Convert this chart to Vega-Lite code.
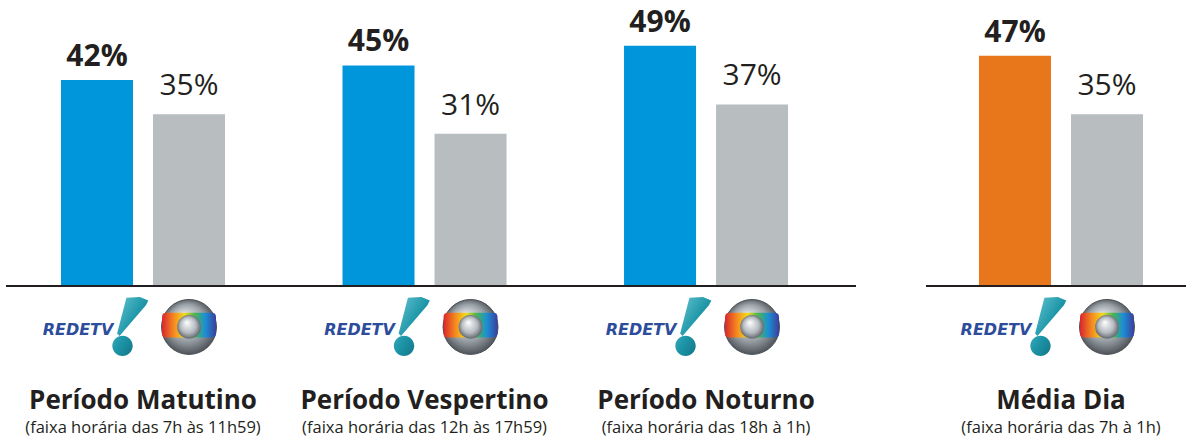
{
  "$schema": "https://vega.github.io/schema/vega-lite/v6.json",
  "padding": {"left": 5, "top": 0, "right": 0, "bottom": 0},
  "spacing": 70,
  "bounds": "flush",
  "background": "white",
  "resolve": {"scale": {"xOffset": "independent", "color": "independent"}},
  "config": {"view": {"stroke": null}, "font": "Open Sans"},
  "datasets": {
    "left": [
      {"group": "Período Matutino", "subtitle": "(faixa horária das 7h às 11h59)", "network": "RedeTV", "value": 0.42},
      {"group": "Período Matutino", "subtitle": "(faixa horária das 7h às 11h59)", "network": "Globo", "value": 0.35},
      {"group": "Período Vespertino", "subtitle": "(faixa horária das 12h às 17h59)", "network": "RedeTV", "value": 0.45},
      {"group": "Período Vespertino", "subtitle": "(faixa horária das 12h às 17h59)", "network": "Globo", "value": 0.31},
      {"group": "Período Noturno", "subtitle": "(faixa horária das 18h à 1h)", "network": "RedeTV", "value": 0.49},
      {"group": "Período Noturno", "subtitle": "(faixa horária das 18h à 1h)", "network": "Globo", "value": 0.37}
    ],
    "right": [
      {"group": "Média Dia", "subtitle": "(faixa horária das 7h à 1h)", "network": "RedeTV", "value": 0.47},
      {"group": "Média Dia", "subtitle": "(faixa horária das 7h à 1h)", "network": "Globo", "value": 0.35}
    ]
  },
  "hconcat": [
    {
      "width": 850,
      "height": 439,
      "data": {"name": "left"},
      "layer": [
        {
          "mark": {"type": "bar"},
          "encoding": {
            "x": {"field": "group", "type": "nominal", "sort": ["Período Matutino", "Período Vespertino", "Período Noturno"], "axis": null,
                  "scale": {"paddingInner": 0.0266, "paddingOuter": 0.023, "align": 0}},
            "xOffset": {"field": "network", "type": "nominal", "sort": ["RedeTV", "Globo"], "scale": {"paddingInner": 0.2174, "paddingOuter": 0.5978}},
            "y": {"field": "value", "type": "quantitative", "axis": null, "scale": {"domain": [-0.3156, 0.584], "nice": false, "zero": false}},
            "y2": {"datum": 0},
            "color": {"condition": {"test": "datum.network === 'Globo'", "value": "#b8bdc0"}, "value": "#0096dc"}
          }
        },
        {
          "mark": {"type": "rule", "color": "#231f20", "strokeWidth": 2},
          "encoding": {"y": {"datum": -0.002}}
        },
        {
          "transform": [{"filter": "datum.network === 'RedeTV'"}],
          "mark": {"type": "text", "dy": -14, "fontSize": 30, "fontWeight": "bold", "color": "#231f20", "baseline": "alphabetic"},
          "encoding": {
            "x": {"field": "group", "type": "nominal", "sort": ["Período Matutino", "Período Vespertino", "Período Noturno"]},
            "xOffset": {"field": "network", "type": "nominal", "sort": ["RedeTV", "Globo"]},
            "y": {"field": "value", "type": "quantitative"},
            "text": {"field": "value", "type": "quantitative", "format": ".0%"}
          }
        },
        {
          "transform": [{"filter": "datum.network === 'Globo'"}],
          "mark": {"type": "text", "dy": -19, "fontSize": 30, "fontWeight": "normal", "color": "#231f20", "baseline": "alphabetic"},
          "encoding": {
            "x": {"field": "group", "type": "nominal", "sort": ["Período Matutino", "Período Vespertino", "Período Noturno"]},
            "xOffset": {"field": "network", "type": "nominal", "sort": ["RedeTV", "Globo"]},
            "y": {"field": "value", "type": "quantitative"},
            "text": {"field": "value", "type": "quantitative", "format": ".0%"}
          }
        },
        {
          "transform": [{"filter": "datum.network === 'RedeTV'"}],
          "mark": {"type": "text", "text": "REDETV", "font": "DejaVu Sans", "fontStyle": "italic", "fontWeight": "bold", "fontSize": 16, "dx": -19, "dy": 8, "baseline": "alphabetic", "color": "#2d4d9c"},
          "encoding": {
            "x": {"field": "group", "type": "nominal", "sort": ["Período Matutino", "Período Vespertino", "Período Noturno"]},
            "xOffset": {"field": "network", "type": "nominal", "sort": ["RedeTV", "Globo"]},
            "y": {"datum": -0.086}
          }
        },
        {
          "transform": [{"filter": "datum.network === 'RedeTV'"}],
          "mark": {"type": "point", "filled": true, "opacity": 1, "size": 3600,
                   "shape": "M 0.98 -0.97 L 1.43 -1 L 1.71 -0.88 L 1.63 -0.72 L 0.75 0.3 L 0.67 0.22 Z M 0.51 0.63 A 0.34 0.34 0 1 0 1.19 0.63 A 0.34 0.34 0 1 0 0.51 0.63 Z",
                   "fill": {"gradient": "linear", "x1": 0, "y1": 0, "x2": 1, "y2": 1, "stops": [{"offset": 0, "color": "#6fcad6"}, {"offset": 0.5, "color": "#1d96a8"}, {"offset": 1, "color": "#0b5d70"}]},
                   "strokeWidth": 0},
          "encoding": {
            "x": {"field": "group", "type": "nominal", "sort": ["Período Matutino", "Período Vespertino", "Período Noturno"]},
            "xOffset": {"field": "network", "type": "nominal", "sort": ["RedeTV", "Globo"]},
            "y": {"datum": -0.086}
          }
        },
        {
          "transform": [{"filter": "datum.network === 'Globo'"}],
          "mark": {"type": "point", "shape": "circle", "filled": true, "opacity": 1, "size": 3019,
                   "fill": {"gradient": "radial", "x1": 0.4, "y1": 0.3, "r1": 0, "x2": 0.5, "y2": 0.5, "r2": 0.55, "stops": [{"offset": 0, "color": "#f2f4f5"}, {"offset": 0.6, "color": "#9aa1a7"}, {"offset": 1, "color": "#3e444a"}]},
                   "stroke": "#4a5056", "strokeWidth": 1},
          "encoding": {
            "x": {"field": "group", "type": "nominal", "sort": ["Período Matutino", "Período Vespertino", "Período Noturno"]},
            "xOffset": {"field": "network", "type": "nominal", "sort": ["RedeTV", "Globo"]},
            "y": {"datum": -0.086}
          }
        },
        {
          "transform": [{"filter": "datum.network === 'Globo'"}],
          "mark": {"type": "point", "filled": true, "opacity": 1, "size": 2916,
                   "shape": "M -1 -0.37 Q -1 -0.53 -0.84 -0.53 L 0.84 -0.53 Q 1 -0.53 1 -0.37 L 1 0.23 Q 1 0.39 0.84 0.39 L -0.84 0.39 Q -1 0.39 -1 0.23 Z",
                   "fill": {"gradient": "linear", "x1": 0, "y1": 0, "x2": 1, "y2": 0, "stops": [{"offset": 0, "color": "#d9262e"}, {"offset": 0.22, "color": "#f58a1f"}, {"offset": 0.42, "color": "#f2dc1e"}, {"offset": 0.6, "color": "#4cb848"}, {"offset": 0.8, "color": "#1b8fd6"}, {"offset": 1, "color": "#3b3f9c"}]},
                   "strokeWidth": 0},
          "encoding": {
            "x": {"field": "group", "type": "nominal", "sort": ["Período Matutino", "Período Vespertino", "Período Noturno"]},
            "xOffset": {"field": "network", "type": "nominal", "sort": ["RedeTV", "Globo"]},
            "y": {"datum": -0.086}
          }
        },
        {
          "transform": [{"filter": "datum.network === 'Globo'"}],
          "mark": {"type": "point", "shape": "circle", "filled": true, "opacity": 1, "size": 560,
                   "fill": {"gradient": "radial", "x1": 0.4, "y1": 0.3, "r1": 0, "x2": 0.5, "y2": 0.5, "r2": 0.55, "stops": [{"offset": 0, "color": "#ffffff"}, {"offset": 0.6, "color": "#b5bbc0"}, {"offset": 1, "color": "#50565c"}]},
                   "strokeWidth": 0},
          "encoding": {
            "x": {"field": "group", "type": "nominal", "sort": ["Período Matutino", "Período Vespertino", "Período Noturno"]},
            "xOffset": {"field": "network", "type": "nominal", "sort": ["RedeTV", "Globo"]},
            "y": {"datum": -0.086}
          }
        },
        {
          "transform": [{"filter": "datum.network === 'RedeTV'"}],
          "mark": {"type": "text", "fontSize": 26, "fontWeight": "bold", "color": "#231f20", "baseline": "alphabetic"},
          "encoding": {
            "x": {"field": "group", "type": "nominal", "sort": ["Período Matutino", "Período Vespertino", "Período Noturno"]},
            "y": {"datum": -0.2531},
            "text": {"field": "group", "type": "nominal"}
          }
        },
        {
          "transform": [{"filter": "datum.network === 'RedeTV'"}],
          "mark": {"type": "text", "fontSize": 16.5, "fontWeight": "normal", "color": "#231f20", "baseline": "alphabetic"},
          "encoding": {
            "x": {"field": "group", "type": "nominal", "sort": ["Período Matutino", "Período Vespertino", "Período Noturno"]},
            "y": {"datum": -0.3043},
            "text": {"field": "subtitle", "type": "nominal"}
          }
        }
      ]
    },
    {
      "width": 261,
      "height": 439,
      "data": {"name": "right"},
      "layer": [
        {
          "mark": {"type": "bar"},
          "encoding": {
            "x": {"field": "group", "type": "nominal", "axis": null,
                  "scale": {"paddingInner": 0, "paddingOuter": 0.04375, "align": 0.714}},
            "xOffset": {"field": "network", "type": "nominal", "sort": ["RedeTV", "Globo"], "scale": {"paddingInner": 0.2174, "paddingOuter": 0.413}},
            "y": {"field": "value", "type": "quantitative", "axis": null, "scale": {"domain": [-0.3156, 0.584], "nice": false, "zero": false}},
            "y2": {"datum": 0},
            "color": {"condition": {"test": "datum.network === 'Globo'", "value": "#b8bdc0"}, "value": "#e8761b"}
          }
        },
        {
          "mark": {"type": "rule", "color": "#231f20", "strokeWidth": 2},
          "encoding": {"y": {"datum": -0.002}}
        },
        {
          "transform": [{"filter": "datum.network === 'RedeTV'"}],
          "mark": {"type": "text", "dy": -14, "fontSize": 30, "fontWeight": "bold", "color": "#231f20", "baseline": "alphabetic"},
          "encoding": {
            "x": {"field": "group", "type": "nominal"},
            "xOffset": {"field": "network", "type": "nominal", "sort": ["RedeTV", "Globo"]},
            "y": {"field": "value", "type": "quantitative"},
            "text": {"field": "value", "type": "quantitative", "format": ".0%"}
          }
        },
        {
          "transform": [{"filter": "datum.network === 'Globo'"}],
          "mark": {"type": "text", "dy": -19, "fontSize": 30, "fontWeight": "normal", "color": "#231f20", "baseline": "alphabetic"},
          "encoding": {
            "x": {"field": "group", "type": "nominal"},
            "xOffset": {"field": "network", "type": "nominal", "sort": ["RedeTV", "Globo"]},
            "y": {"field": "value", "type": "quantitative"},
            "text": {"field": "value", "type": "quantitative", "format": ".0%"}
          }
        },
        {
          "transform": [{"filter": "datum.network === 'RedeTV'"}],
          "mark": {"type": "text", "text": "REDETV", "font": "DejaVu Sans", "fontStyle": "italic", "fontWeight": "bold", "fontSize": 16, "dx": -19, "dy": 8, "baseline": "alphabetic", "color": "#2d4d9c"},
          "encoding": {
            "x": {"field": "group", "type": "nominal"},
            "xOffset": {"field": "network", "type": "nominal", "sort": ["RedeTV", "Globo"]},
            "y": {"datum": -0.086}
          }
        },
        {
          "transform": [{"filter": "datum.network === 'RedeTV'"}],
          "mark": {"type": "point", "filled": true, "opacity": 1, "size": 3600,
                   "shape": "M 0.98 -0.97 L 1.43 -1 L 1.71 -0.88 L 1.63 -0.72 L 0.75 0.3 L 0.67 0.22 Z M 0.51 0.63 A 0.34 0.34 0 1 0 1.19 0.63 A 0.34 0.34 0 1 0 0.51 0.63 Z",
                   "fill": {"gradient": "linear", "x1": 0, "y1": 0, "x2": 1, "y2": 1, "stops": [{"offset": 0, "color": "#6fcad6"}, {"offset": 0.5, "color": "#1d96a8"}, {"offset": 1, "color": "#0b5d70"}]},
                   "strokeWidth": 0},
          "encoding": {
            "x": {"field": "group", "type": "nominal"},
            "xOffset": {"field": "network", "type": "nominal", "sort": ["RedeTV", "Globo"]},
            "y": {"datum": -0.086}
          }
        },
        {
          "transform": [{"filter": "datum.network === 'Globo'"}],
          "mark": {"type": "point", "shape": "circle", "filled": true, "opacity": 1, "size": 3019,
                   "fill": {"gradient": "radial", "x1": 0.4, "y1": 0.3, "r1": 0, "x2": 0.5, "y2": 0.5, "r2": 0.55, "stops": [{"offset": 0, "color": "#f2f4f5"}, {"offset": 0.6, "color": "#9aa1a7"}, {"offset": 1, "color": "#3e444a"}]},
                   "stroke": "#4a5056", "strokeWidth": 1},
          "encoding": {
            "x": {"field": "group", "type": "nominal"},
            "xOffset": {"field": "network", "type": "nominal", "sort": ["RedeTV", "Globo"]},
            "y": {"datum": -0.086}
          }
        },
        {
          "transform": [{"filter": "datum.network === 'Globo'"}],
          "mark": {"type": "point", "filled": true, "opacity": 1, "size": 2916,
                   "shape": "M -1 -0.37 Q -1 -0.53 -0.84 -0.53 L 0.84 -0.53 Q 1 -0.53 1 -0.37 L 1 0.23 Q 1 0.39 0.84 0.39 L -0.84 0.39 Q -1 0.39 -1 0.23 Z",
                   "fill": {"gradient": "linear", "x1": 0, "y1": 0, "x2": 1, "y2": 0, "stops": [{"offset": 0, "color": "#d9262e"}, {"offset": 0.22, "color": "#f58a1f"}, {"offset": 0.42, "color": "#f2dc1e"}, {"offset": 0.6, "color": "#4cb848"}, {"offset": 0.8, "color": "#1b8fd6"}, {"offset": 1, "color": "#3b3f9c"}]},
                   "strokeWidth": 0},
          "encoding": {
            "x": {"field": "group", "type": "nominal"},
            "xOffset": {"field": "network", "type": "nominal", "sort": ["RedeTV", "Globo"]},
            "y": {"datum": -0.086}
          }
        },
        {
          "transform": [{"filter": "datum.network === 'Globo'"}],
          "mark": {"type": "point", "shape": "circle", "filled": true, "opacity": 1, "size": 560,
                   "fill": {"gradient": "radial", "x1": 0.4, "y1": 0.3, "r1": 0, "x2": 0.5, "y2": 0.5, "r2": 0.55, "stops": [{"offset": 0, "color": "#ffffff"}, {"offset": 0.6, "color": "#b5bbc0"}, {"offset": 1, "color": "#50565c"}]},
                   "strokeWidth": 0},
          "encoding": {
            "x": {"field": "group", "type": "nominal"},
            "xOffset": {"field": "network", "type": "nominal", "sort": ["RedeTV", "Globo"]},
            "y": {"datum": -0.086}
          }
        },
        {
          "transform": [{"filter": "datum.network === 'RedeTV'"}],
          "mark": {"type": "text", "fontSize": 26, "fontWeight": "bold", "color": "#231f20", "baseline": "alphabetic"},
          "encoding": {
            "x": {"field": "group", "type": "nominal"},
            "y": {"datum": -0.2531},
            "text": {"field": "group", "type": "nominal"}
          }
        },
        {
          "transform": [{"filter": "datum.network === 'RedeTV'"}],
          "mark": {"type": "text", "fontSize": 16.5, "fontWeight": "normal", "color": "#231f20", "baseline": "alphabetic"},
          "encoding": {
            "x": {"field": "group", "type": "nominal"},
            "y": {"datum": -0.3043},
            "text": {"field": "subtitle", "type": "nominal"}
          }
        }
      ]
    }
  ]
}
